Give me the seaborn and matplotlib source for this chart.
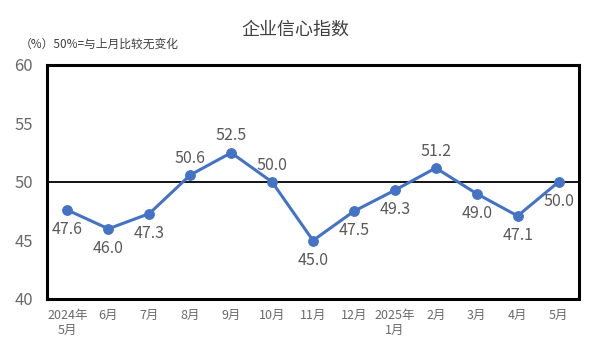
import matplotlib
matplotlib.use("Agg")
import matplotlib.pyplot as plt
import seaborn as sns
import pandas as pd

months = ["2024年\n5月", "6月", "7月", "8月", "9月", "10月", "11月", "12月",
          "2025年\n1月", "2月", "3月", "4月", "5月"]
values = [47.6, 46.0, 47.3, 50.6, 52.5, 50.0, 45.0, 47.5, 49.3, 51.2, 49.0, 47.1, 50.0]
label_pos = ["below", "below", "below", "above", "above", "above", "below", "below",
             "below", "above", "below", "below", "below"]
yticks = [40, 45, 50, 55, 60]

sns.set_theme(style="white")
plt.rcParams['font.family'] = ['Noto Sans CJK SC', 'DejaVu Sans']

df = pd.DataFrame({"x": range(len(months)), "v": values})

fig = plt.figure(figsize=(5.91, 3.54), dpi=100)
ax = fig.add_axes([47/591, 1 - 299/354, 532/591, 234/354])
blue = "#4472C4"
sns.lineplot(data=df, x="x", y="v", ax=ax, color=blue, linewidth=2.2,
             marker="o", markersize=7, markeredgecolor=blue, zorder=3)
ax.axhline(50, color="black", linewidth=1.3, zorder=2)
ax.set_xlim(-0.5, len(months) - 0.5)
ax.set_ylim(40, 60)
ax.set_yticks(yticks)
ax.set_yticklabels([str(t) for t in yticks], fontsize=12, color="#6a6a6a")
ax.set_xticks(range(len(months)))
ax.set_xticklabels(months, fontsize=9, color="#6a6a6a", linespacing=1.25)
ax.tick_params(axis="x", length=0, pad=7)
ax.tick_params(axis="y", length=0, pad=10)
ax.set_xlabel("")
ax.set_ylabel("")
for s in ax.spines.values():
    s.set_color("black")
    s.set_linewidth(2.2)

for i, (v, p) in enumerate(zip(values, label_pos)):
    dy = 6 if p == "above" else -8
    va = "bottom" if p == "above" else "top"
    ax.annotate(f"{v:.1f}", (i, v), xytext=(0, dy), textcoords="offset points",
                ha="center", va=va, fontsize=11.5, color="#595959")

fig.text(295/591, 1 - 30/354, "企业信心指数", ha="center", va="center",
         fontsize=13, color="#404040")
fig.text(20/591, 1 - 44/354, "（%）50%=与上月比较无变化", ha="left", va="center",
         fontsize=8.5, color="#404040")

fig.savefig("out.png", dpi=100)
